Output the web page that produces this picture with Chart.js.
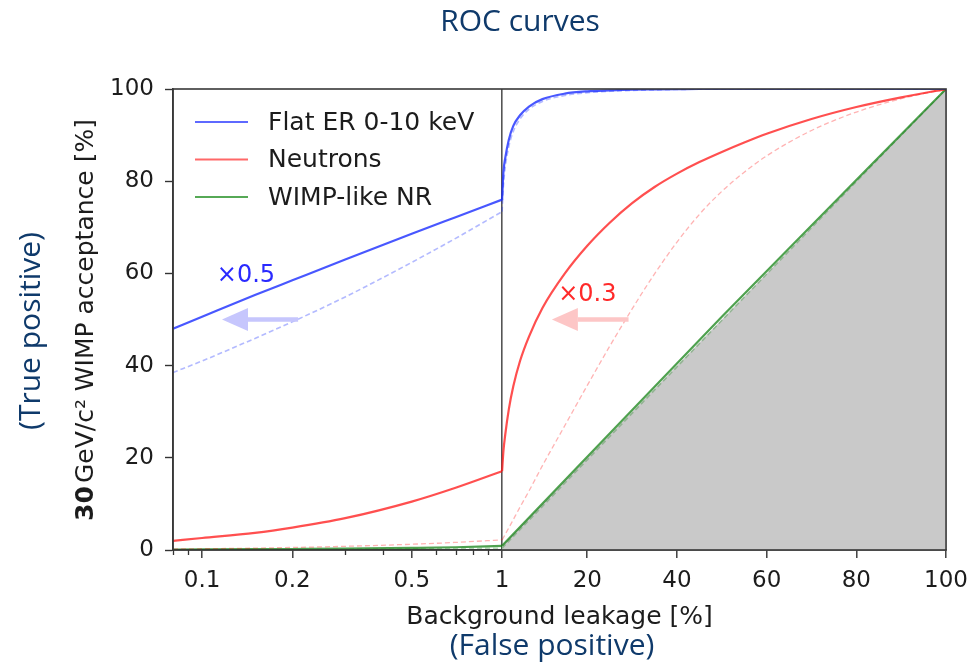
<!DOCTYPE html>
<html>
<head>
<meta charset="utf-8">
<title>ROC curves</title>
<script src="https://cdn.jsdelivr.net/npm/chart.js@4.4.1/dist/chart.umd.min.js"></script>
<style>
  html, body { margin: 0; padding: 0; background: #ffffff; }
  canvas { display: block; }
</style>
</head>
<body>
<canvas id="roc" width="977" height="663"></canvas>
<script>
// ---- Data -----------------------------------------------------------------
// Background leakage [%]: log panel below 1 %, linear panel from 1 % to 100 %
const leakLow  = [0.08, 0.1, 0.15, 0.2, 0.3, 0.5, 0.7, 1];
const leakHigh = [1, 1.3, 1.7, 2.5, 3.5, 5, 7, 10, 15, 20, 25, 30, 35, 40, 45, 50, 55, 60, 70, 80, 90, 100];
const leakDiag = [1, 50, 100];

// WIMP acceptance [%] — Flat ER 0-10 keV
const erLow        = [48, 50.6, 55.3, 58.5, 63, 68.6, 72.2, 76];
const erHigh       = [76, 82, 85, 89, 92, 94.3, 96.2, 97.8, 99, 99.5, 99.7, 99.85, 99.9, 99.95, 100, 100, 100, 100, 100, 100, 100, 100];
const erShiftLow   = [38.5, 41, 45.9, 49.5, 54.9, 62.4, 67.6, 73.4];
const erShiftHigh  = [73.4, 79, 83, 87.5, 90.8, 93.5, 95.6, 97.3, 98.6, 99.2, 99.5, 99.7, 99.8, 99.9, 99.95, 100, 100, 100, 100, 100, 100, 100];

// WIMP acceptance [%] — Neutrons
const nLow         = [2.0, 2.6, 3.7, 4.85, 6.9, 10.5, 13.5, 17.1];
const nHigh        = [17.1, 21.5, 25, 30.5, 35.5, 41, 46.3, 52.5, 60, 66, 71, 75.25, 78.75, 81.65, 84.15, 86.35, 88.4, 90.3, 93.5, 96.1, 98.2, 100];
const nShiftLow    = [0.2, 0.27, 0.4, 0.55, 0.8, 1.25, 1.65, 2.2];
const nShiftHigh   = [2.2, 2.7, 3.4, 4.8, 6.6, 9.3, 12.8, 18.3, 27, 35.7, 44.2, 52.3, 59.9, 66.8, 72.8, 77.8, 81.95, 85.5, 91, 95, 97.9, 100];

// WIMP acceptance [%] — WIMP-like NR
const nrLow        = [0.1, 0.12, 0.17, 0.22, 0.3, 0.45, 0.6, 0.9];
const nrHigh       = [0.9, 50.6, 100];
const nrShiftLow   = [0.03, 0.04, 0.06, 0.08, 0.12, 0.2, 0.28, 0.4];
const nrShiftHigh  = [0.4, 49.8, 100];

// Random-guess diagonal
const chanceLine   = [1, 50, 100];

// Axis ticks
const xMajorTicks = [0.1, 0.2, 0.5, 1, 20, 40, 60, 80, 100];
const xMinorTicks = [0.08, 0.09, 0.3, 0.4, 0.6, 0.7, 0.8, 0.9];
const yTicks      = [0, 20, 40, 60, 80, 100];

// Leakage-scaling arrows: from the shifted curve to the nominal one, at a fixed acceptance
const erArrow = { from: 0.209, to: 0.1165, level: 50, note: '×0.5', noteX: 0.14, noteY: 59.5 };
const nArrow  = { from: 29.2,  to: 12.1,   level: 50, note: '×0.3', noteX: 20.0, noteY: 55.3 };

const legendEntries = [
  { label: 'Flat ER 0-10 keV', color: 'rgba(40,55,255,0.75)' },
  { label: 'Neutrons',         color: 'rgba(255,40,40,0.7)' },
  { label: 'WIMP-like NR',     color: 'rgba(30,140,30,0.75)' }
];

const pts = (xs, ys) => xs.map((x, i) => ({ x, y: ys[i] }));

// ---- Split axis: logarithmic up to the break value, linear above -------------
class SplitLeakageScale extends Chart.Scale {
  static id = 'splitLeakage';
  static defaults = {};

  parse(raw) { return Number(raw); }

  determineDataLimits() {
    this.min = this.options.min;
    this.max = this.options.max;
  }

  buildTicks() {
    return xMajorTicks.map(v => ({ value: v }));
  }

  getLabelForValue(v) { return String(v); }

  toDecimal(value) {
    const brk = this.options.breakValue;
    const share = this.options.logShare;
    if (value <= brk) {
      const lo = Math.log10(this.min);
      return (Math.log10(value) - lo) / (Math.log10(brk) - lo) * share;
    }
    return share + (value - brk) / (this.max - brk) * (1 - share);
  }

  getPixelForValue(value) {
    return this.getPixelForDecimal(this.toDecimal(value));
  }

  getPixelForTick(index) {
    const ticks = this.getTicks();
    return this.getPixelForValue(ticks[index].value);
  }

  getValueForPixel(pixel) {
    const d = this.getDecimalForPixel(pixel);
    const brk = this.options.breakValue;
    const share = this.options.logShare;
    if (d <= share) {
      const lo = Math.log10(this.min);
      return Math.pow(10, lo + d / share * (Math.log10(brk) - lo));
    }
    return brk + (d - share) / (1 - share) * (this.max - brk);
  }

  drawGrid(area) {
    super.drawGrid(area);
    const ctx = this.ctx;
    ctx.save();
    ctx.strokeStyle = '#333333';
    ctx.lineWidth = 1.3;
    ctx.beginPath();
    xMinorTicks.forEach(v => {
      const px = Math.round(this.getPixelForValue(v)) + 0.5;
      ctx.moveTo(px, this.top);
      ctx.lineTo(px, this.top + 5);
    });
    ctx.stroke();
    ctx.restore();
  }
}
Chart.register(SplitLeakageScale);

// ---- Decorations: frame, arrows, notes, legend, titles ------------------------
const TEXT = '#1c1c1c';
const NAVY = '#0f3a6b';

function drawArrow(ctx, x0, y0, x1, y1, color) {
  const head = 26, half = 11.5;
  const dir = Math.sign(x1 - x0);
  ctx.save();
  ctx.strokeStyle = color;
  ctx.fillStyle = color;
  ctx.lineWidth = 4.5;
  ctx.beginPath();
  ctx.moveTo(x0, y0);
  ctx.lineTo(x1 - dir * head, y1);
  ctx.stroke();
  ctx.beginPath();
  ctx.moveTo(x1, y1);
  ctx.lineTo(x1 - dir * head, y1 - half);
  ctx.lineTo(x1 - dir * head, y1 + half);
  ctx.closePath();
  ctx.fill();
  ctx.restore();
}

const decorations = {
  id: 'rocDecorations',
  afterDatasetsDraw(chart) {
    const { ctx, chartArea: a, scales: { x, y } } = chart;

    // plot frame
    ctx.save();
    ctx.strokeStyle = '#383838';
    ctx.lineWidth = 1.6;
    ctx.strokeRect(a.left, a.top, a.right - a.left, a.bottom - a.top);
    ctx.restore();

    // scaling arrows and their notes
    drawArrow(ctx, x.getPixelForValue(erArrow.from), y.getPixelForValue(erArrow.level),
              x.getPixelForValue(erArrow.to), y.getPixelForValue(erArrow.level), '#c6c6fd');
    drawArrow(ctx, x.getPixelForValue(nArrow.from), y.getPixelForValue(nArrow.level),
              x.getPixelForValue(nArrow.to), y.getPixelForValue(nArrow.level), '#fdc6c6');
    ctx.save();
    ctx.font = '24px "DejaVu Sans"';
    ctx.textAlign = 'center';
    ctx.textBaseline = 'middle';
    ctx.fillStyle = '#2a2aff';
    ctx.fillText(erArrow.note, x.getPixelForValue(erArrow.noteX), y.getPixelForValue(erArrow.noteY));
    ctx.fillStyle = '#ff2a2a';
    ctx.fillText(nArrow.note, x.getPixelForValue(nArrow.noteX), y.getPixelForValue(nArrow.noteY));
    ctx.restore();

    // legend
    ctx.save();
    ctx.font = '25px "DejaVu Sans"';
    ctx.textAlign = 'left';
    ctx.textBaseline = 'middle';
    legendEntries.forEach((e, i) => {
      const ly = a.top + 33 + i * 37.5;
      ctx.strokeStyle = e.color;
      ctx.lineWidth = 2;
      ctx.beginPath();
      ctx.moveTo(a.left + 22, ly);
      ctx.lineTo(a.left + 75, ly);
      ctx.stroke();
      ctx.fillStyle = TEXT;
      ctx.fillText(e.label, a.left + 95, ly + 1);
    });
    ctx.restore();
  },
  afterDraw(chart) {
    const { ctx, chartArea: a } = chart;
    ctx.save();
    ctx.fillStyle = NAVY;
    ctx.font = '30px "Open Sans"';
    ctx.textAlign = 'center';
    ctx.textBaseline = 'alphabetic';
    ctx.fillText('ROC curves', 520, 30.5);
    ctx.fillText('(False positive)', 552, 655);

    // x-axis title
    ctx.fillStyle = TEXT;
    ctx.font = '25px "DejaVu Sans"';
    ctx.fillText('Background leakage [%]', (a.left + a.right) / 2, 624);

    // y-axis titles (rotated)
    ctx.save();
    ctx.translate(31, 331);
    ctx.rotate(-Math.PI / 2);
    ctx.fillStyle = NAVY;
    ctx.font = '30px "Open Sans"';
    ctx.textBaseline = 'middle';
    ctx.fillText('(True positive)', 0, 0);
    ctx.restore();

    ctx.save();
    ctx.translate(86, 320);
    ctx.rotate(-Math.PI / 2);
    ctx.fillStyle = TEXT;
    ctx.textBaseline = 'middle';
    ctx.textAlign = 'left';
    const bold = 'bold 25px "DejaVu Sans"';
    const norm = '25px "DejaVu Sans"';
    const partA = '30';
    const partB = 'GeV/c² WIMP acceptance [%]';
    ctx.font = bold;
    const wA = ctx.measureText(partA).width + 3;
    ctx.font = norm;
    const wB = ctx.measureText(partB).width;
    const start = -(wA + wB) / 2;
    ctx.font = bold;
    ctx.fillText(partA, start, 0);
    ctx.font = norm;
    ctx.fillText(partB, start + wA, 0);
    ctx.restore();
    ctx.restore();
  }
};

// ---- Chart --------------------------------------------------------------------
const solid = (data, color) => ({
  data, borderColor: color, borderWidth: 2.2, pointRadius: 0,
  cubicInterpolationMode: 'monotone', fill: false
});
const dashed = (data, color, width) => ({
  data, borderColor: color, borderWidth: width, borderDash: [5, 3], pointRadius: 0,
  cubicInterpolationMode: 'monotone', fill: false
});

const BLUE = 'rgba(20,40,255,0.78)', BLUE_L = 'rgba(20,40,255,0.32)';
const RED = 'rgba(255,20,20,0.75)',  RED_L = 'rgba(255,20,20,0.32)';
const GREEN = 'rgba(20,130,20,0.75)', GREEN_L = 'rgba(20,130,20,0.3)';

new Chart(document.getElementById('roc'), {
  type: 'line',
  data: {
    datasets: [
      solid(pts(leakLow, erLow), BLUE),
      solid(pts(leakHigh, erHigh), BLUE),
      dashed(pts(leakLow, erShiftLow), BLUE_L, 1.6),
      dashed(pts(leakHigh, erShiftHigh), BLUE_L, 1.6),
      solid(pts(leakLow, nLow), RED),
      solid(pts(leakHigh, nHigh), RED),
      dashed(pts(leakLow, nShiftLow), RED_L, 1.3),
      dashed(pts(leakHigh, nShiftHigh), RED_L, 1.3),
      solid(pts(leakLow, nrLow), GREEN),
      solid(pts(leakDiag, nrHigh), GREEN),
      dashed(pts(leakLow, nrShiftLow), GREEN_L, 1.6),
      dashed(pts(leakDiag, nrShiftHigh), GREEN_L, 1.6),
      {
        data: pts(leakDiag, chanceLine), borderWidth: 0, pointRadius: 0,
        backgroundColor: '#c9c9c9', fill: 'origin'
      }
    ]
  },
  options: {
    responsive: false,
    animation: false,
    devicePixelRatio: 1,
    events: [],
    layout: { padding: { left: 0, top: 89, right: 28, bottom: 0 } },
    plugins: {
      legend: { display: false },
      title: { display: false },
      tooltip: { enabled: false }
    },
    scales: {
      x: {
        type: 'splitLeakage',
        min: 0.08,
        max: 100,
        breakValue: 1,
        logShare: 0.4257,
        afterFit: s => { s.height = 113; },
        border: { display: true, color: '#383838', width: 1.6 },
        grid: {
          drawOnChartArea: true,
          color: c => (c.tick && c.tick.value === 1) ? '#555555' : 'rgba(0,0,0,0)',
          lineWidth: 1.6,
          tickColor: '#333333',
          tickWidth: 1.4,
          tickLength: 8
        },
        ticks: {
          autoSkip: false,
          maxRotation: 0,
          padding: 9,
          color: TEXT,
          font: { family: 'DejaVu Sans', size: 23 },
          callback: v => String(v)
        }
      },
      y: {
        type: 'linear',
        min: 0,
        max: 100,
        afterFit: s => { s.width = 173; },
        afterBuildTicks: s => { s.ticks = yTicks.map(v => ({ value: v })); },
        border: { display: true, color: '#383838', width: 1.6 },
        grid: {
          drawOnChartArea: false,
          tickColor: '#333333',
          tickWidth: 1.4,
          tickLength: 8
        },
        ticks: {
          padding: 11,
          color: TEXT,
          font: { family: 'DejaVu Sans', size: 23 }
        }
      }
    }
  },
  plugins: [decorations]
});
</script>
</body>
</html>
